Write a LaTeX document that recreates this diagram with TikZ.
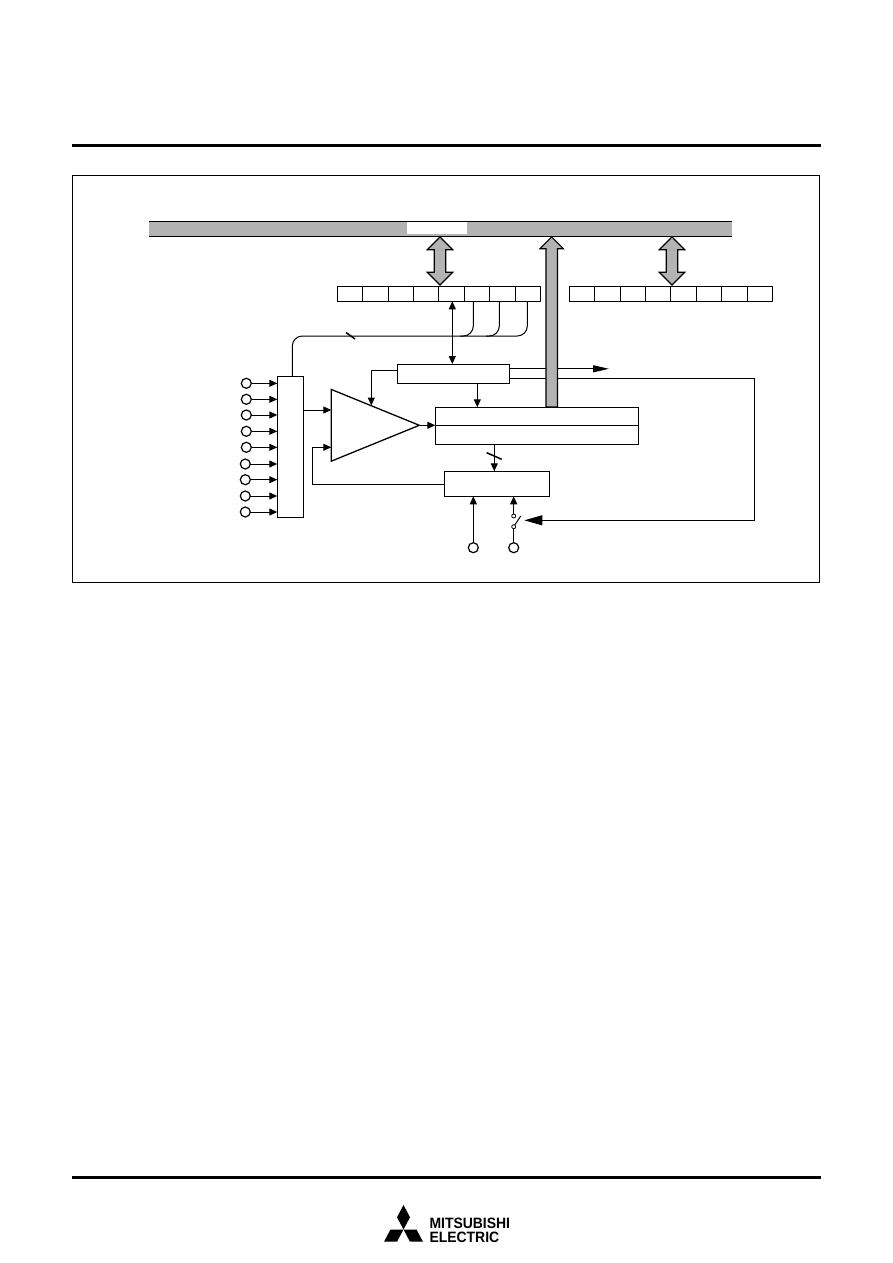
\documentclass[tikz,border=0pt]{standalone}
\usepackage{fontspec}
\setmainfont{Liberation Sans}
\usetikzlibrary{arrows.meta, positioning, shapes.geometric, shapes.arrows}
\definecolor{busgray}{HTML}{B3B3B3}
\tikzset{
    wire/.style={line width=1pt},
    slash/.style={line width=1.5pt},
    sig/.style={wire, -{Triangle[length=8pt,width=7pt]}},
    sigboth/.style={wire, {Triangle[length=8pt,width=7pt]}-{Triangle[length=8pt,width=7pt]}},
    block/.style={draw, line width=1pt, fill=white, inner sep=0pt, outer sep=0pt},
    regcell/.style={block, minimum width=25.4pt, minimum height=15pt},
    pin/.style={draw, line width=1.2pt, circle, inner sep=0pt, outer sep=0pt, minimum size=10pt},
    swpin/.style={draw, line width=0.8pt, circle, inner sep=0pt, outer sep=0pt, minimum size=4pt},
    busarrow/.style={draw, line width=1.1pt, fill=busgray, inner xsep=0pt, inner ysep=5.2pt, outer sep=0pt, rotate=90},
    logotext/.style={inner sep=0pt, outer sep=0pt, anchor=base west, xscale=0.93, transform shape, font=\fontsize{15}{15}\selectfont\bfseries},
}
\begin{document}
\begin{tikzpicture}[x=1pt, y=-1pt]
            \useasboundingbox (0,0) rectangle (892,1263);
            \draw[line width=3.2pt] (72,145.5) -- (820.5,145.5);
            \draw[line width=3.2pt] (72,1177.5) -- (820.5,1177.5);
            \node[draw, line width=1pt, inner sep=0pt, outer sep=0pt, minimum width=747.5pt, minimum height=407pt] (frame) at (446,379) {};

            \node[fill=busgray, inner sep=0pt, outer sep=0pt, minimum width=583pt, minimum height=15pt] (bus) at (440.5,228.6) {};
            \draw[wire] (bus.north west) -- (bus.north east);
            \draw[wire] (bus.south west) -- (bus.south east);
            \node[fill=white, inner sep=0pt, outer sep=0pt, minimum width=60pt, minimum height=12pt] (buslabel) at (437,228) {};

            \node[regcell] (ra0) at (350,293.8) {};
            \foreach \i [count=\j from 0] in {1,...,7}
                \node[regcell, right=0pt of ra\j] (ra\i) {};
            \node[regcell] (rb0) at (582,293.8) {};
            \foreach \i [count=\j from 0] in {1,...,7}
                \node[regcell, right=0pt of rb\j] (rb\i) {};

            \node[block, minimum width=112pt, minimum height=19.3pt] (ctrl) at (453.3,373.7) {};
            \node[block, minimum width=26pt, minimum height=141pt] (mux) at (290.3,446.8) {};
            \node[block, minimum width=203.4pt, minimum height=18pt] (sara) at (537,416.3) {};
            \node[block, minimum width=203.4pt, minimum height=19pt] (sarb) at (537,434.8) {};
            \node[block, minimum width=105pt, minimum height=25pt] (dac) at (496.8,483.8) {};
            \node[draw, line width=1.3pt, isosceles triangle, isosceles triangle stretches, minimum width=71.7pt, minimum height=88pt, inner sep=0pt, outer sep=0pt, anchor=apex] (comp) at (419.3,425.3) {};

            \foreach \i/\x/\y in {1/246.3/383.3, 2/246.3/399.3, 3/246.3/415, 4/246.3/431.3, 5/246.3/447.3, 6/245.3/464, 7/245.3/479.7, 8/245.3/496, 9/245.3/512} {
                \node[pin] (in\i) at (\x,\y) {};
                \draw[sig] (in\i) -- (mux.west |- in\i);
            }

            \coordinate (cmpa) at (331.3,410);
            \coordinate (cmpb) at (331.3,447.3);
            \coordinate (fbk) at (312.3,484);
            \coordinate (vin) at (371.3,405.5);
            \coordinate (adbus) at (292.3,336);
            \draw[sig] (mux.east |- cmpa) -- (cmpa);
            \draw[sig] (dac.west |- fbk) -- (fbk) |- (cmpb);
            \draw[sig] (ctrl.west |- 0,370.3) -| (vin);
            \draw[sig] (comp.apex) -- (sara.south west);
            \draw[sig] (477.3,383.4) -- (477.3,407.3);
            \draw[sigboth] (452.3,301.3) -- (452.3,364);

            \draw[wire, rounded corners=10pt] (mux.north -| adbus) -- (adbus) -- (527.3,336) -- (527.3,301.3);
            \draw[wire, rounded corners=10pt] (473.3,301.3) -- (473.3,336) -- (460,336);
            \draw[wire, rounded corners=10pt] (499.3,301.3) -- (499.3,336) -- (486,336);
            \draw[slash] (346,332.5) -- (355,339);

            \draw[wire] (ctrl.east |- 0,368.8) -- (593,368.8);
            \draw[sig, -{Triangle[length=16pt,width=7pt]}] (593,368.8) -- (609,368.8);
            \coordinate (swarm) at (524.3,520.3);
            \draw[wire, -{Triangle[length=18pt,width=10pt]}] (ctrl.east |- 0,378.3) -- (754.3,378.3) -- (754.3,520.3) -- (swarm);

            \node[busarrow, double arrow, minimum height=48pt, double arrow head extend=7pt] (arra) at (440,261) {};
            \node[busarrow, double arrow, minimum height=48pt, double arrow head extend=7pt] (arrb) at (672,261) {};
            \node[busarrow, single arrow, minimum height=170pt, single arrow head extend=6pt, anchor=tip] (arrc) at (551.7,237) {};

            \draw[sig] (494.3,444.3) -- (494.3,471.3);
            \draw[slash] (486.7,452.7) -- (501.7,459.3);

            \node[pin] (vref) at (473.3,547.7) {};
            \node[pin] (avss) at (513.7,547.7) {};
            \node[swpin] (swb) at (513.7,526.7) {};
            \node[swpin] (swt) at (513.7,516) {};
            \draw[sig] (vref) -- (vref |- dac.south);
            \draw[sig] (swt) -- (swt |- dac.south);
            \draw[wire] (avss) -- (swb);
            \draw[wire] (swb) -- (520.7,516);

            \fill (403.5,1205) -- (410,1217.2) -- (403.5,1229.5) -- (397,1217.2) -- cycle;
            \fill (403.5,1229.5) -- (416.5,1229.5) -- (423,1241.7) -- (410,1241.7) -- cycle;
            \fill (403.5,1229.5) -- (390.5,1229.5) -- (384,1241.7) -- (397,1241.7) -- cycle;
            \node[logotext] (logoa) at (429.5,1228) {MITSUBISHI};
            \node[logotext] (logob) at (429.5,1242.5) {ELECTRIC};
        \end{tikzpicture}
\end{document}
